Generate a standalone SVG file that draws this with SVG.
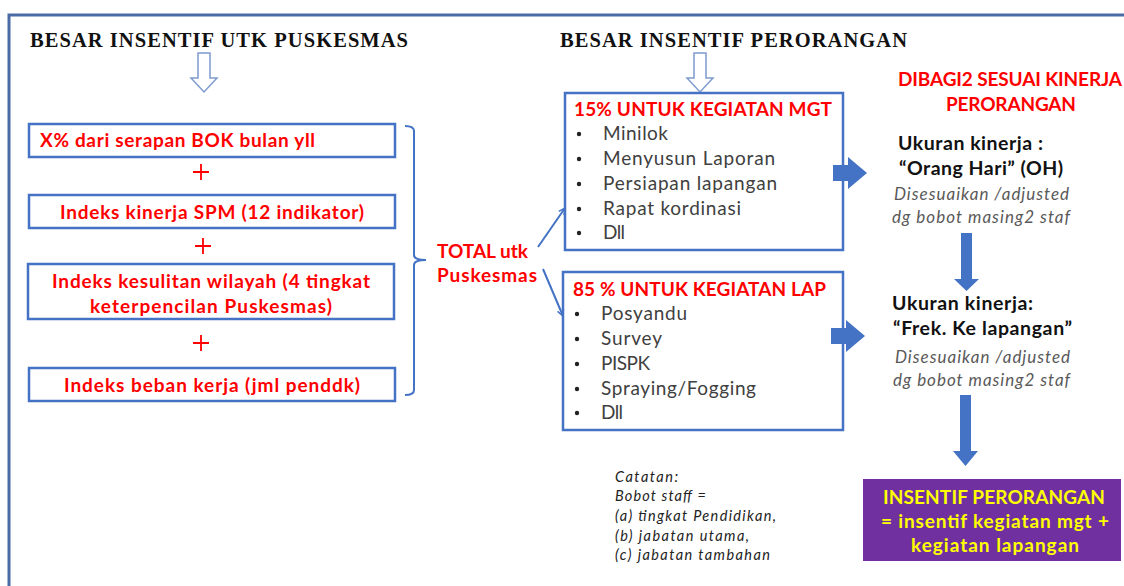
<svg xmlns="http://www.w3.org/2000/svg" width="1124" height="586" viewBox="0 0 1124 586">
<defs>
<style>
.frame{fill:none;stroke:#4a6aa8;stroke-width:3}
.box{fill:#fff;stroke:#4472c4;stroke-width:2.5}
.red{font-family:Lato,"Liberation Sans",sans-serif;font-weight:bold;fill:#ff0000;font-size:19px}
.ttl{font-family:"Liberation Serif",serif;font-weight:bold;font-size:20.5px;fill:#111}
.item{font-family:Lato,"Liberation Sans",sans-serif;font-size:19px;fill:#404040}
.blk{font-family:Lato,"Liberation Sans",sans-serif;font-weight:bold;font-size:19.5px;fill:#111}
.ital{font-family:Lato,"Liberation Sans",sans-serif;font-style:italic;font-size:17px;fill:#595959}
.note{font-family:Lato,"Liberation Sans",sans-serif;font-style:italic;font-size:14.5px;fill:#222}
.yel{font-family:Lato,"Liberation Sans",sans-serif;font-weight:bold;font-size:19px;fill:#ffff00}
.hollow{fill:#fff;stroke:#7f9bcf;stroke-width:1.5}
.blue{fill:#4472c4}
.plus{stroke:#ff0000;stroke-width:1.8}
.conn{fill:none;stroke:#4472c4;stroke-width:2}
.dot{fill:#222}
</style>
<marker id="ah" viewBox="0 0 10 10" refX="9" refY="5" markerWidth="8" markerHeight="8" orient="auto" markerUnits="userSpaceOnUse">
<path d="M1,1 L9,5 L1,9" fill="none" stroke="#4472c4" stroke-width="1.8"/>
</marker>
</defs>
<rect width="1124" height="586" fill="#fff"/>
<g id="frame">
<path class="frame" d="M9,586 V15 H1124"/>
</g>
<g id="title-puskesmas">
<text class="ttl" x="30" y="47" textLength="378">BESAR INSENTIF UTK PUSKESMAS</text>
<path class="hollow" d="M198,53 H210 V78 H217 L204,92 L191,78 H198 Z"/>
</g>
<g id="title-perorangan">
<text class="ttl" x="560" y="47" textLength="347">BESAR INSENTIF PERORANGAN</text>
<path class="hollow" d="M694,53 H706 V78 H713 L700,92 L687,78 H694 Z"/>
</g>
<g id="box-bok">
<rect class="box" x="29" y="124" width="366" height="33"/>
<text class="red" x="40" y="147" textLength="275">X% dari serapan BOK bulan yll</text>
</g>
<g id="plus1"><path class="plus" d="M193,172 H209 M201,164 V180"/></g>
<g id="box-spm">
<rect class="box" x="29" y="195" width="366" height="33"/>
<text class="red" x="212" y="219" text-anchor="middle" textLength="304">Indeks kinerja SPM (12 indikator)</text>
</g>
<g id="plus2"><path class="plus" d="M195,246 H211 M203,238 V254"/></g>
<g id="box-wilayah">
<rect class="box" x="28" y="264" width="366" height="55"/>
<text class="red" x="211" y="288" text-anchor="middle" textLength="318">Indeks kesulitan wilayah (4 tingkat</text>
<text class="red" x="211" y="313" text-anchor="middle" textLength="242">keterpencilan  Puskesmas)</text>
</g>
<g id="plus3"><path class="plus" d="M193,343 H209 M201,335 V351"/></g>
<g id="box-beban">
<rect class="box" x="29" y="368" width="366" height="33"/>
<text class="red" x="212" y="392" text-anchor="middle" textLength="296">Indeks beban kerja (jml penddk)</text>
</g>
<g id="bracket">
<path class="conn" stroke-width="2.5" d="M405,126 Q414,126 414,131 V255 Q414,260 426,260 Q414,260 414,265 V390 Q414,395 405,395"/>
</g>
<g id="total">
<text class="red" x="437" y="258" textLength="91">TOTAL utk</text>
<text class="red" x="437" y="282" textLength="100">Puskesmas</text>
</g>
<g id="box-mgt">
<rect class="box" x="565" y="93" width="278" height="157"/>
<text class="red" x="574" y="116" textLength="258">15% UNTUK KEGIATAN MGT</text>
<circle class="dot" cx="579" cy="134" r="2.2"/>
<circle class="dot" cx="579" cy="159" r="2.2"/>
<circle class="dot" cx="579" cy="184" r="2.2"/>
<circle class="dot" cx="579" cy="209" r="2.2"/>
<circle class="dot" cx="579" cy="233" r="2.2"/>
<text class="item" x="603" y="140" textLength="65">Minilok</text>
<text class="item" x="603" y="165" textLength="172">Menyusun Laporan</text>
<text class="item" x="603" y="190" textLength="174">Persiapan lapangan</text>
<text class="item" x="603" y="215" textLength="138">Rapat kordinasi</text>
<text class="item" x="603" y="239" textLength="22">Dll</text>
</g>
<g id="box-lap">
<rect class="box" x="563" y="272" width="280" height="158"/>
<text class="red" x="573" y="296" textLength="253">85 % UNTUK KEGIATAN LAP</text>
<circle class="dot" cx="577" cy="314" r="2.2"/>
<circle class="dot" cx="577" cy="339" r="2.2"/>
<circle class="dot" cx="577" cy="364" r="2.2"/>
<circle class="dot" cx="577" cy="389" r="2.2"/>
<circle class="dot" cx="577" cy="413" r="2.2"/>
<text class="item" x="601" y="320" textLength="86">Posyandu</text>
<text class="item" x="601" y="345" textLength="61">Survey</text>
<text class="item" x="601" y="370" textLength="49">PISPK</text>
<text class="item" x="601" y="395" textLength="155">Spraying/Fogging</text>
<text class="item" x="601" y="419" textLength="22">Dll</text>
</g>
<g id="dibagi">
<text class="red" x="898" y="86" textLength="224">DIBAGI2 SESUAI KINERJA</text>
<text class="red" x="1011" y="111" text-anchor="middle" textLength="130">PERORANGAN</text>
</g>
<g id="ukuran-oh">
<text class="blk" x="898" y="150" textLength="145">Ukuran kinerja :</text>
<text class="blk" x="899" y="175" textLength="164">“Orang Hari” (OH)</text>
<text class="ital" x="894" y="200" textLength="175">Disesuaikan /adjusted</text>
<text class="ital" x="892" y="223" textLength="178">dg bobot masing2 staf</text>
</g>
<g id="ukuran-frek">
<text class="blk" x="892" y="310" textLength="141">Ukuran kinerja:</text>
<text class="blk" x="893" y="335" textLength="179">“Frek. Ke lapangan”</text>
<text class="ital" x="895" y="363" textLength="175">Disesuaikan /adjusted</text>
<text class="ital" x="893" y="386" textLength="177">dg bobot masing2 staf</text>
</g>
<g id="catatan">
<text class="note" x="615" y="482" textLength="63">Catatan:</text>
<text class="note" x="615" y="501" textLength="91">Bobot staff =</text>
<text class="note" x="615" y="521" textLength="161">(a) tingkat Pendidikan,</text>
<text class="note" x="615" y="541" textLength="134">(b) jabatan utama,</text>
<text class="note" x="615" y="560" textLength="155">(c) jabatan tambahan</text>
</g>
<g id="insentif-perorangan">
<rect x="863" y="479" width="258" height="82" fill="#7030a0"/>
<text class="yel" x="994" y="504" text-anchor="middle" textLength="222">INSENTIF PERORANGAN</text>
<text class="yel" x="995" y="528" text-anchor="middle" textLength="228">= insentif kegiatan mgt +</text>
<text class="yel" x="995" y="552" text-anchor="middle" textLength="168">kegiatan lapangan</text>
</g>
<g id="connectors">
<path class="conn" d="M538,247 L565,208" marker-end="url(#ah)"/>
<path class="conn" d="M543,269 L563,316" marker-end="url(#ah)"/>
<path class="blue" d="M833,165 H848 V157 L867,173 L848,189 V181 H833 Z"/>
<path class="blue" d="M831,328 H846 V320 L865,336 L846,352 V344 H831 Z"/>
<path class="blue" d="M961,233 H972 V279 H979 L966.5,291 L954,279 H961 Z"/>
<path class="blue" d="M960,395 H971 V451 H978 L965.5,466 L953,451 H960 Z"/>
</g>
</svg>
